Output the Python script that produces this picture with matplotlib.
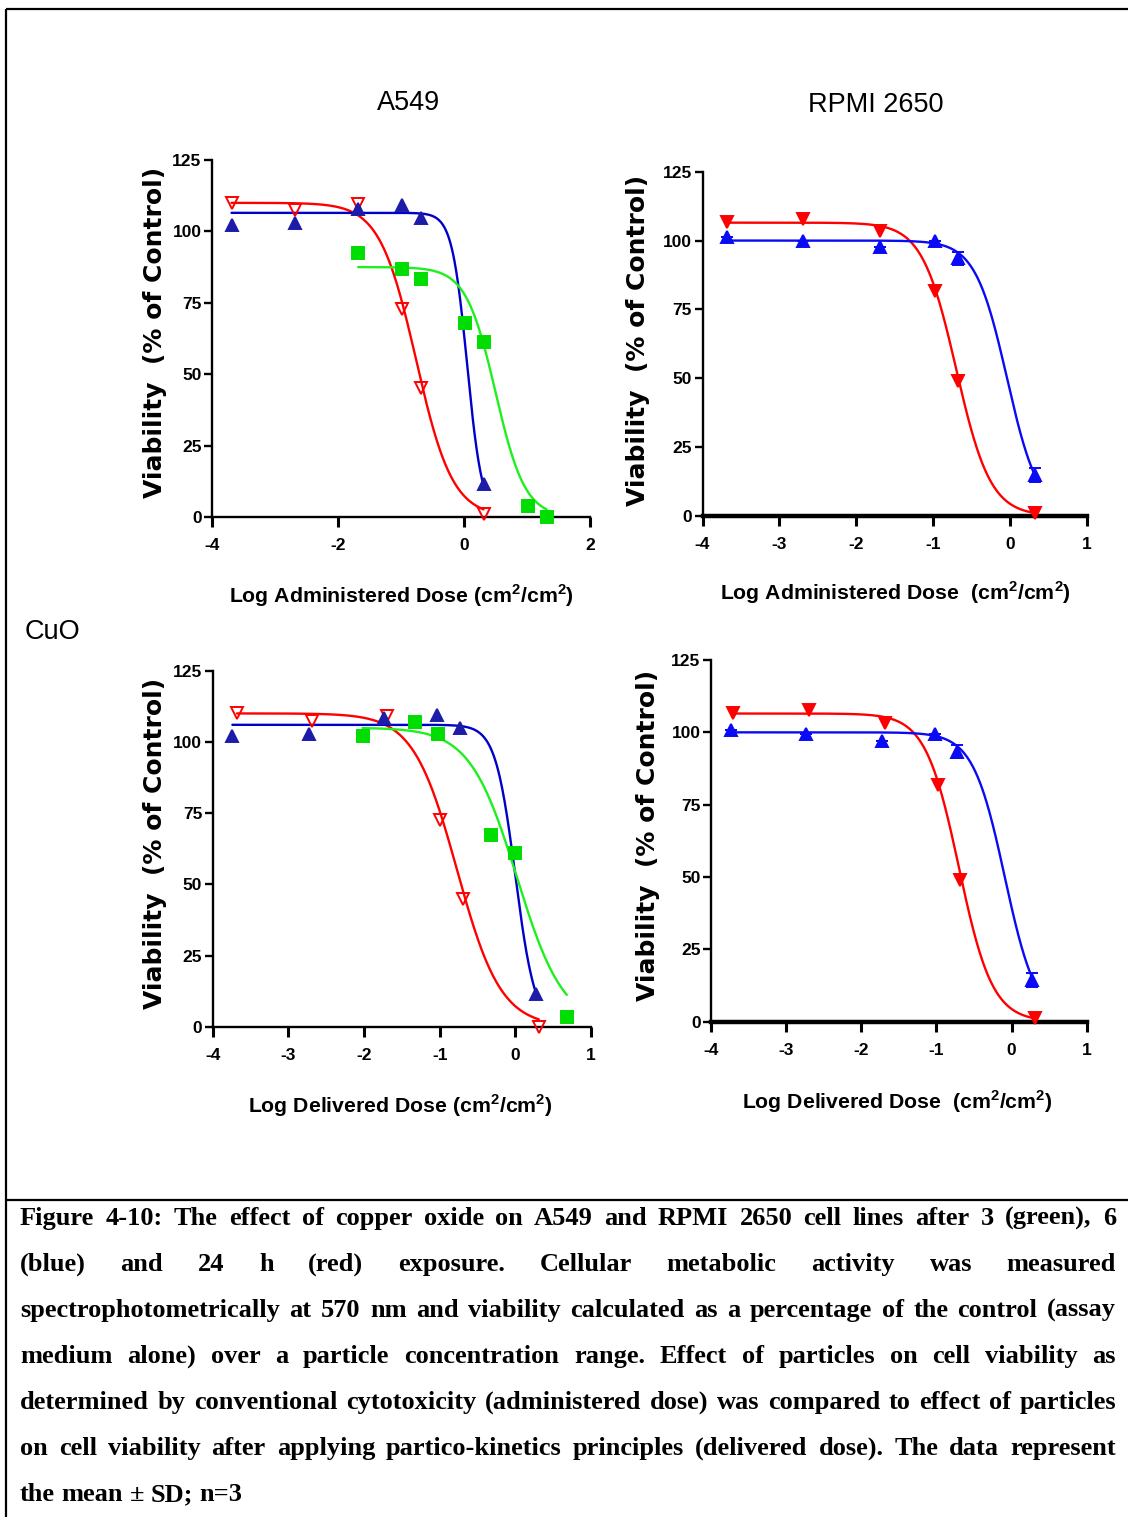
import numpy as np
import matplotlib
matplotlib.use("Agg")
import matplotlib.pyplot as plt
from matplotlib.lines import Line2D

W_PX, H_PX, DPI = 1128, 1517, 100

SANS = ['Liberation Sans', 'DejaVu Sans']
SERIF = ['Liberation Serif', 'DejaVu Serif']

plt.rcParams['mathtext.fontset'] = 'custom'
plt.rcParams['mathtext.rm'] = 'Liberation Sans'
plt.rcParams['mathtext.bf'] = 'Liberation Sans:bold'

# ---------------------------------------------------------------- data
# Each fit is a four-parameter logistic: [top, bottom, logEC50, Hill slope]

# A549, administered dose
a549_adm_x_3h = [-1.68, -0.98, -0.69, 0.02, 0.31, 1.02, 1.31]
a549_adm_y_3h = [92.5, 87.0, 83.2, 67.8, 61.3, 3.7, 0.0]
a549_adm_fit_3h = [87.5, 0.0, 0.50, 1.85]
a549_adm_x_6h = [-3.69, -2.69, -1.68, -0.99, -0.69, 0.31]
a549_adm_y_6h = [102.2, 103.0, 108.0, 109.2, 104.8, 11.7]
a549_adm_fit_6h = [106.5, 0.0, 0.05, 3.6]
a549_adm_x_24h = [-3.69, -2.69, -1.68, -0.99, -0.69, 0.31]
a549_adm_y_24h = [109.8, 107.5, 109.6, 73.0, 45.3, 1.2]
a549_adm_fit_24h = [110.0, 0.0, -0.76, 1.5]

# RPMI 2650, administered dose
rpmi_adm_x_6h = [-3.68, -2.69, -1.69, -0.98, -0.68, 0.32]
rpmi_adm_y_6h = [101.2, 99.8, 97.5, 99.8, 93.5, 14.9]
rpmi_adm_sd_6h = [0.0, 0.0, 0.0, 0.0, 2.5, 2.5]
rpmi_adm_fit_6h = [100.0, 0.0, -0.04, 2.1]
rpmi_adm_x_24h = [-3.68, -2.69, -1.69, -0.98, -0.68, 0.32]
rpmi_adm_y_24h = [106.8, 108.0, 103.6, 81.7, 49.0, 1.0]
rpmi_adm_fit_24h = [106.5, 0.0, -0.70, 1.95]

# A549, delivered dose
a549_del_x_3h = [-2.02, -1.32, -1.02, -0.32, 0.00, 0.68]
a549_del_y_3h = [102.0, 107.0, 102.8, 67.3, 61.1, 3.5]
a549_del_fit_3h = [105.0, 0.0, 0.02, 1.4]
a549_del_x_6h = [-3.74, -2.73, -1.74, -1.04, -0.73, 0.27]
a549_del_y_6h = [102.0, 102.8, 108.3, 109.4, 104.8, 11.4]
a549_del_fit_6h = [106.0, 0.0, 0.0, 3.3]
a549_del_x_24h = [-3.68, -2.69, -1.69, -0.99, -0.69, 0.31]
a549_del_y_24h = [110.0, 107.3, 109.2, 72.6, 44.7, 0.0]
a549_del_fit_24h = [110.0, 0.0, -0.77, 1.5]

# RPMI 2650, delivered dose
rpmi_del_x_6h = [-3.73, -2.73, -1.73, -1.02, -0.73, 0.27]
rpmi_del_y_6h = [100.8, 99.4, 97.1, 99.4, 93.3, 14.4]
rpmi_del_sd_6h = [0.0, 0.0, 0.0, 0.0, 2.3, 2.5]
rpmi_del_fit_6h = [100.0, 0.0, -0.09, 2.05]
rpmi_del_x_24h = [-3.71, -2.70, -1.69, -0.985, -0.68, 0.31]
rpmi_del_y_24h = [106.6, 107.7, 103.1, 81.8, 49.0, 1.2]
rpmi_del_fit_24h = [106.5, 0.0, -0.70, 1.95]

y_ticks = [0, 25, 50, 75, 100, 125]
x_ticks_wide = [-4, -2, 0, 2]
x_ticks_narrow = [-4, -3, -2, -1, 0, 1]

titles = ['A549', 'RPMI 2650']
row_label = 'CuO'
y_label = 'Viability  (% of Control)'
unit = r'(cm$^{\mathbf{2}}$/cm$^{\mathbf{2}}$)'
x_label_adm = ['Log Administered Dose ' + unit, 'Log Administered Dose  ' + unit]
x_label_del = ['Log Delivered Dose ' + unit, 'Log Delivered Dose  ' + unit]

caption_lines = [
    "Figure 4-10: The effect of copper oxide on A549 and RPMI 2650 cell lines after 3 (green), 6",
    "(blue) and 24 h (red) exposure. Cellular metabolic activity was measured",
    "spectrophotometrically at 570 nm and viability calculated as a percentage of the control (assay",
    "medium alone) over a particle concentration range. Effect of particles on cell viability as",
    "determined by conventional cytotoxicity (administered dose) was compared to effect of particles",
    "on cell viability after applying partico-kinetics principles (delivered dose). The data represent",
    "the mean \u00b1 SD; n=3",
]

# ---------------------------------------------------------------- styles
RED = '#FF0000'
GREEN_MARK, GREEN_LINE = '#00DD00', '#1EF01E'
DARK_BLUE_MARK, DARK_BLUE_LINE = '#1C1CA8', '#0000CC'
BLUE = '#0A0AF5'


def logistic(x, p):
    top, bottom, c, h = p
    return bottom + (top - bottom) / (1.0 + 10.0 ** ((x - c) * h))


def px_rect(x0, x1, y_top, y_bot):
    return [x0 / W_PX, 1 - y_bot / H_PX, (x1 - x0) / W_PX, (y_bot - y_top) / H_PX]


def fx(px):
    return px / W_PX


def fy(py):
    return 1 - py / H_PX


def draw_series(ax, xs, ys, fit, marker, mfc, mec, line_color, sds=None):
    xc = np.linspace(min(xs), max(xs), 400)
    ax.plot(xc, logistic(xc, fit), color=line_color, lw=1.7, zorder=2,
            clip_on=False, solid_capstyle='round')
    if sds is not None:
        ax.errorbar(xs, ys, yerr=sds, fmt='none', ecolor=mec, elinewidth=1.4,
                    capsize=4.5, capthick=1.4, zorder=3)
    ax.plot(xs, ys, ls='none', marker=marker, ms=8.3, mfc=mfc, mec=mec,
            mew=1.4, zorder=4, clip_on=False)


def style_axes(ax, xlim, xticks, bottom_width):
    ax.set_xlim(*xlim)
    ax.set_ylim(0, 125)
    for s in ('top', 'right'):
        ax.spines[s].set_visible(False)
    ax.spines['left'].set_linewidth(1.7)
    ax.spines['bottom'].set_linewidth(bottom_width)
    ax.set_xticks(xticks)
    ax.set_yticks(y_ticks)
    tick_font = dict(family=SANS, weight='bold', size=12.5)
    ax.set_xticklabels([str(t) for t in xticks], fontdict=tick_font)
    ax.set_yticklabels([str(t) for t in y_ticks], fontdict=tick_font)
    ax.tick_params(axis='x', direction='out', length=7, width=2.2, pad=8)
    ax.tick_params(axis='y', direction='out', length=6, width=1.7, pad=1.5)
    ax.set_facecolor('none')


fig = plt.figure(figsize=(W_PX / DPI, H_PX / DPI), dpi=DPI)

# ---------------------------------------------------------------- panels
ax_tl = fig.add_axes(px_rect(212, 590, 160, 517))
style_axes(ax_tl, (-4, 2), x_ticks_wide, 1.7)
draw_series(ax_tl, a549_adm_x_24h, a549_adm_y_24h, a549_adm_fit_24h, 'v', 'none', RED, RED)
draw_series(ax_tl, a549_adm_x_6h, a549_adm_y_6h, a549_adm_fit_6h, '^', DARK_BLUE_MARK, DARK_BLUE_MARK, DARK_BLUE_LINE)
draw_series(ax_tl, a549_adm_x_3h, a549_adm_y_3h, a549_adm_fit_3h, 's', GREEN_MARK, GREEN_MARK, GREEN_LINE)

ax_tr = fig.add_axes(px_rect(702.5, 1087, 171.7, 516))
style_axes(ax_tr, (-4, 1), x_ticks_narrow, 3.2)
draw_series(ax_tr, rpmi_adm_x_24h, rpmi_adm_y_24h, rpmi_adm_fit_24h, 'v', RED, RED, RED)
draw_series(ax_tr, rpmi_adm_x_6h, rpmi_adm_y_6h, rpmi_adm_fit_6h, '^', BLUE, BLUE, BLUE, sds=rpmi_adm_sd_6h)

ax_bl = fig.add_axes(px_rect(212.7, 591, 670.7, 1026.7))
style_axes(ax_bl, (-4, 1), x_ticks_narrow, 1.7)
draw_series(ax_bl, a549_del_x_24h, a549_del_y_24h, a549_del_fit_24h, 'v', 'none', RED, RED)
draw_series(ax_bl, a549_del_x_6h, a549_del_y_6h, a549_del_fit_6h, '^', DARK_BLUE_MARK, DARK_BLUE_MARK, DARK_BLUE_LINE)
draw_series(ax_bl, a549_del_x_3h, a549_del_y_3h, a549_del_fit_3h, 's', GREEN_MARK, GREEN_MARK, GREEN_LINE)

ax_br = fig.add_axes(px_rect(711, 1086.7, 660, 1021.7))
style_axes(ax_br, (-4, 1), x_ticks_narrow, 3.2)
draw_series(ax_br, rpmi_del_x_24h, rpmi_del_y_24h, rpmi_del_fit_24h, 'v', RED, RED, RED)
draw_series(ax_br, rpmi_del_x_6h, rpmi_del_y_6h, rpmi_del_fit_6h, '^', BLUE, BLUE, BLUE, sds=rpmi_del_sd_6h)

# ---------------------------------------------------------------- labels
title_font = dict(family=SANS, size=19.5)
fig.text(fx(409), fy(103), titles[0], ha='center', va='center', **title_font)
fig.text(fx(876), fy(105), titles[1], ha='center', va='center', **title_font)
fig.text(fx(25), fy(632), row_label, ha='left', va='center', family=SANS, size=19.5)

ylab_font = dict(family=['DejaVu Sans'], weight='bold', size=18)
for (x, y) in [(155, 332), (638, 340), (155, 843), (648, 835)]:
    fig.text(fx(x), fy(y), y_label, rotation=90, ha='center', va='center', **ylab_font)

xlab_font = dict(family=SANS, weight='bold', size=15.3)
fig.text(fx(401), fy(596), x_label_adm[0], ha='center', va='center', **xlab_font)
fig.text(fx(895), fy(593), x_label_adm[1], ha='center', va='center', **xlab_font)
fig.text(fx(400), fy(1106), x_label_del[0], ha='center', va='center', **xlab_font)
fig.text(fx(897), fy(1102), x_label_del[1], ha='center', va='center', **xlab_font)

# ---------------------------------------------------------------- frame
frame_kw = dict(color='black', lw=1.6, transform=fig.transFigure, solid_capstyle='butt')
fig.add_artist(Line2D([fx(6), 1.0], [fy(9), fy(9)], **frame_kw))
fig.add_artist(Line2D([fx(6), fx(6)], [fy(9), 0.0], **frame_kw))
fig.add_artist(Line2D([fx(6), 1.0], [fy(1200), fy(1200)], **frame_kw))

# ---------------------------------------------------------------- caption (justified)
cap_size = 19.0
cap_left, cap_right = 20, 1116
fig.canvas.draw()
renderer = fig.canvas.get_renderer()
space_px = 0.25 * cap_size * DPI / 72
for i, line in enumerate(caption_lines):
    words = line.split()
    base_y = fy(1225 + 46 * i)
    texts = [fig.text(0, base_y, w, ha='left', va='baseline', family=SERIF,
                      weight='bold', size=cap_size) for w in words]
    widths = [t.get_window_extent(renderer).width for t in texts]
    if i == len(caption_lines) - 1 or len(words) == 1:
        gap = space_px
    else:
        gap = (cap_right - cap_left - sum(widths)) / (len(words) - 1)
    x = cap_left
    for t, w in zip(texts, widths):
        t.set_x(fx(x))
        x += w + gap

fig.savefig('out.png', dpi=DPI, facecolor='white')
